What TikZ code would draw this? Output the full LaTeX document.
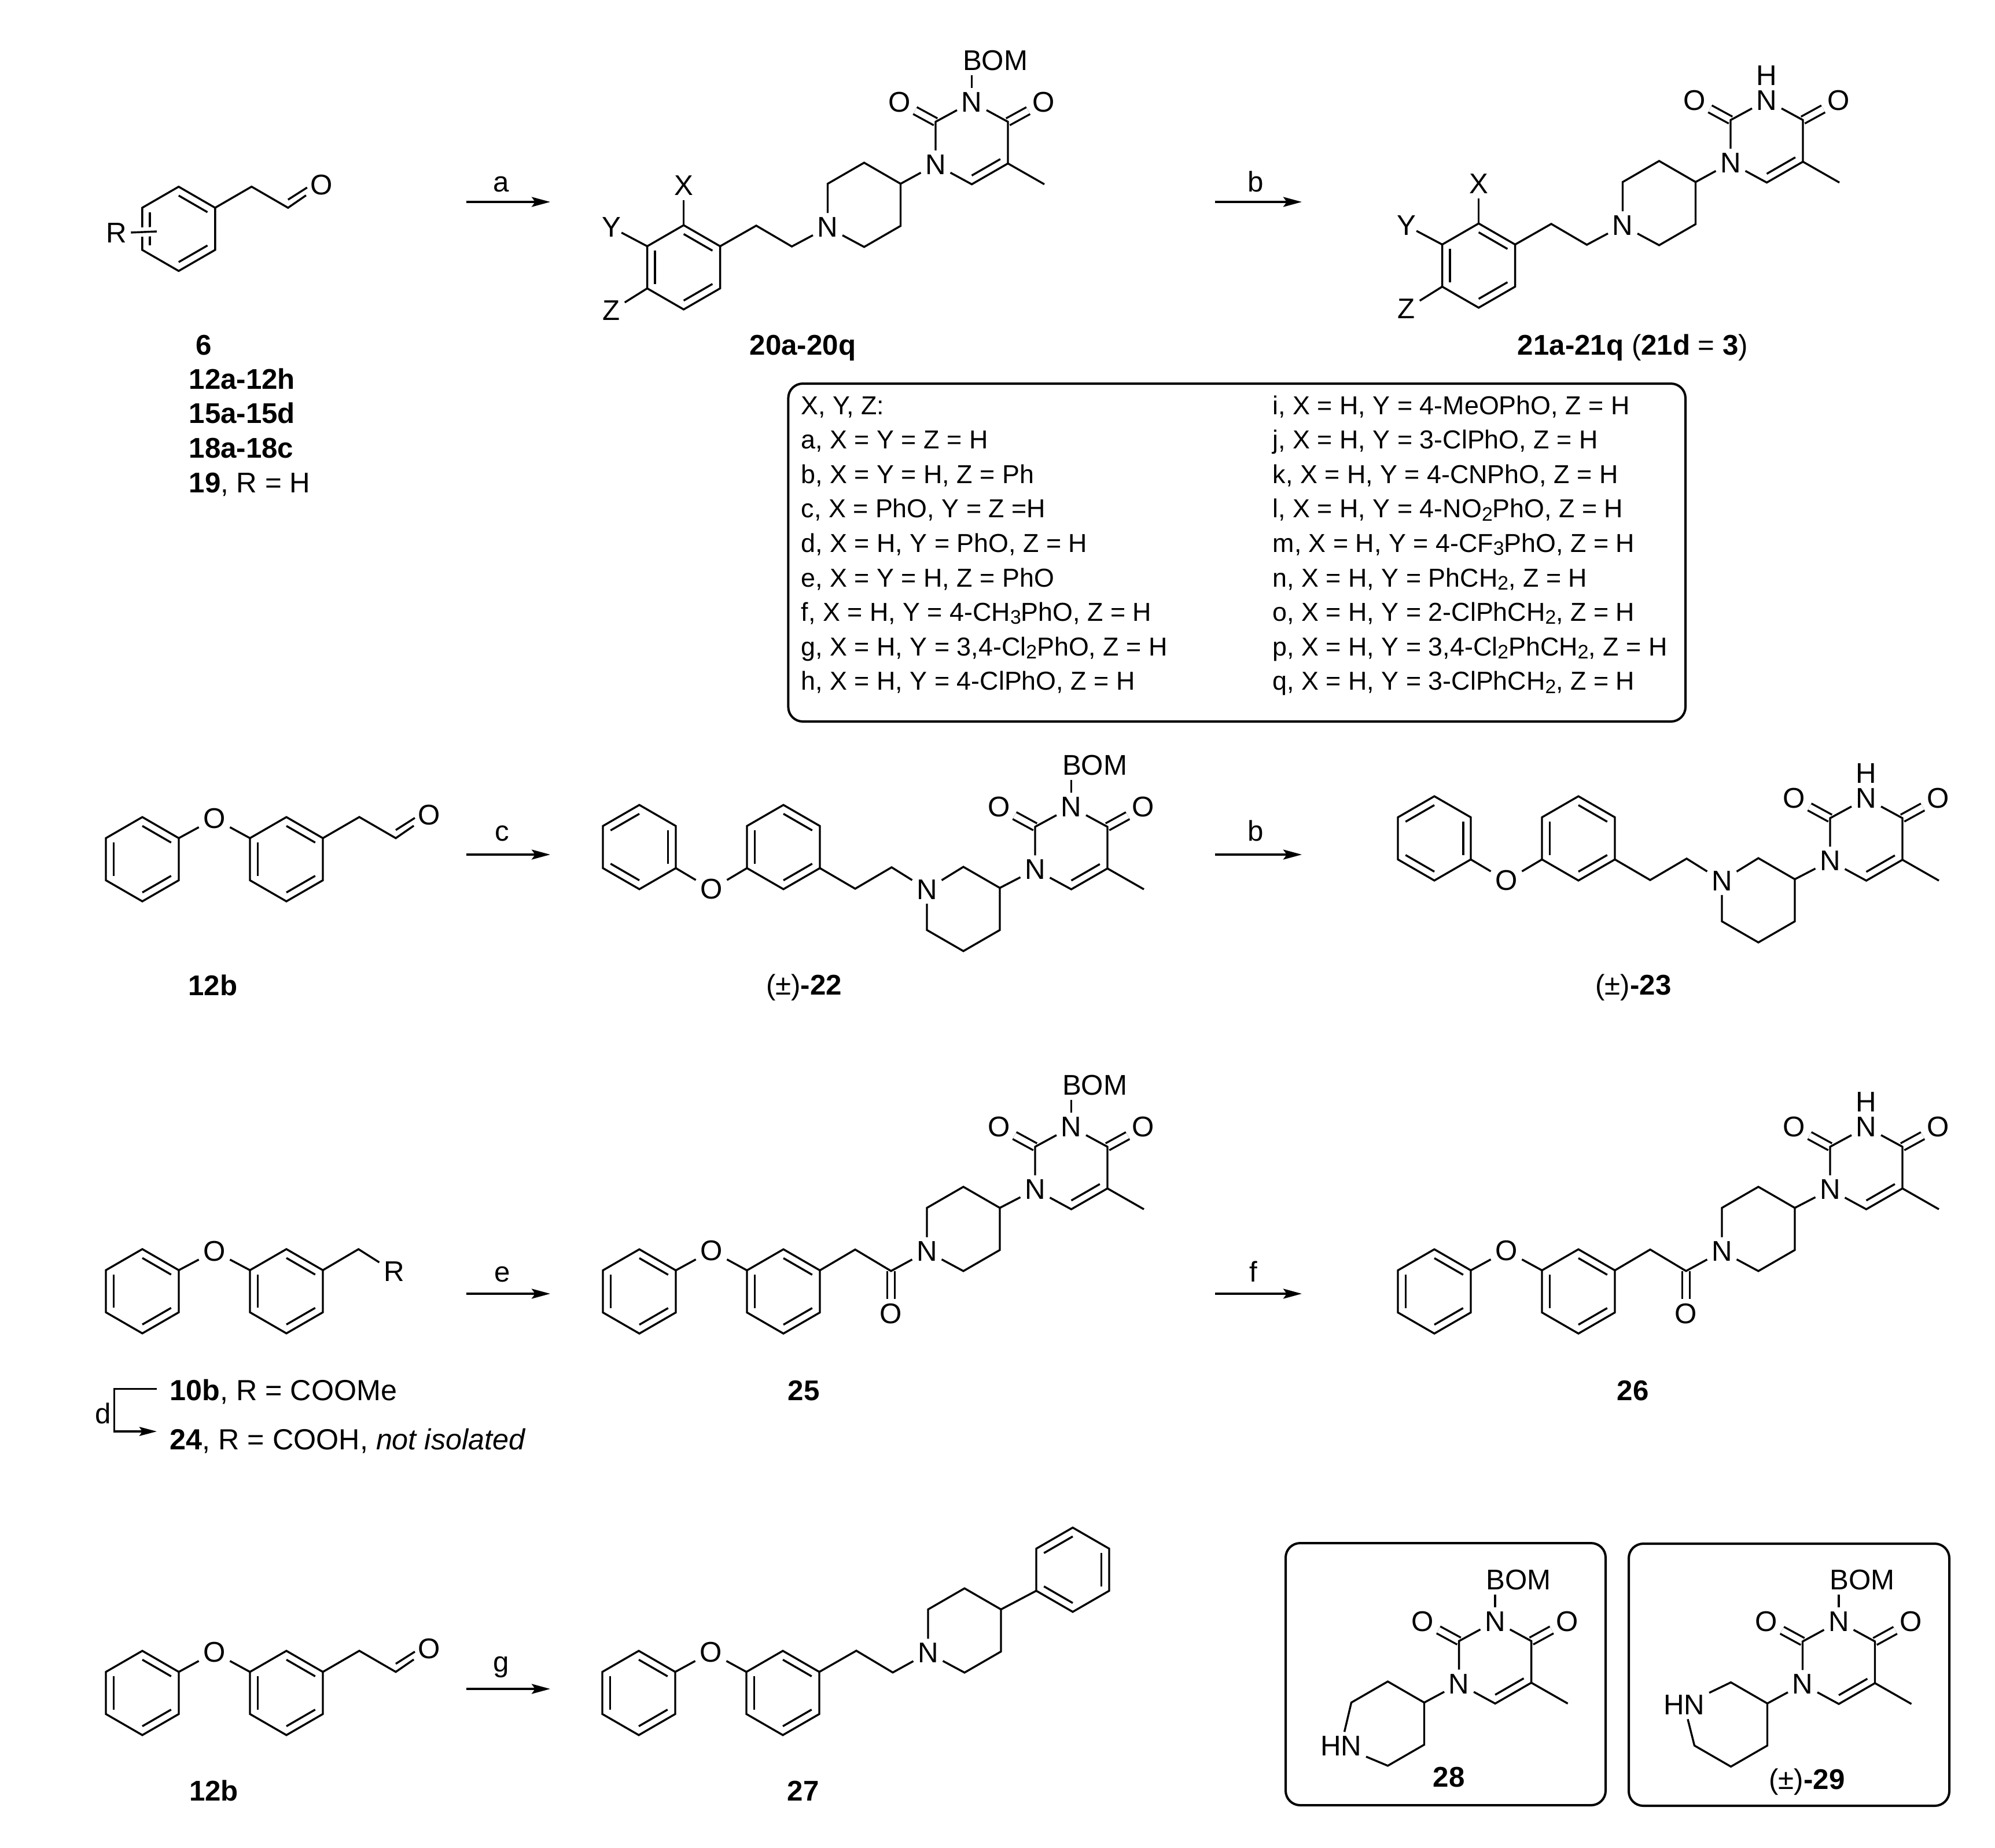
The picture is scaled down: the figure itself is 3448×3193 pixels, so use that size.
\documentclass[tikz,border=0pt]{standalone}
\usepackage{fontspec}
\setmainfont{Liberation Sans}
\usetikzlibrary{arrows.meta,calc}
\newcommand{\atomfont}{\fontsize{14}{15}\selectfont}
\newcommand{\tablefont}{\fontsize{12.75}{15}\selectfont}
\newcommand{\cmpdfont}{\fontsize{14}{15}\selectfont}
\newcommand{\notefont}{\fontsize{14.3}{15}\selectfont}
\newcommand{\lowidx}[1]{\raisebox{-1.5pt}{\fontsize{9.6}{10}\selectfont #1}}
\tikzset{
  bond/.style={line width=0.034cm},
  cobond/.style={line width=0.034cm,double,double distance=0.10cm},
  atom/.style={font=\atomfont,inner sep=2pt},
  cmpd/.style={font=\cmpdfont,inner sep=0pt,anchor=base},
  listrow/.style={font=\cmpdfont,inner sep=0pt,anchor=base west},
  noterow/.style={font=\notefont,inner sep=0pt,anchor=base west},
  tablerow/.style={font=\tablefont,inner sep=0pt,anchor=base west},
  rxnlabel/.style={font=\atomfont,inner sep=0pt,anchor=base},
  rxnarrow/.style={line width=0.04cm,-{Stealth[length=0.32cm,width=0.17cm,inset=0.06cm]}},
  boxframe/.style={line width=0.04cm,rounded corners=0.25cm}
}
% aromatic ring: name, centre x, centre y, double bonds
\newcommand{\benzring}[4]{
  \coordinate (#1c) at (#2,#3);
  \foreach \vi/\ux/\uy in {1/0/-2,2/1/-1,3/1/1,4/0/2,5/-1/1,6/-1/-1}
    \coordinate (#1\vi) at (#2+\ux*63,#3+\uy*36.4);
  \draw[bond] (#11) -- (#12) -- (#13) -- (#14) -- (#15) -- (#16) -- cycle;
  \foreach \ed in {#4} {
    \pgfmathtruncatemacro{\nx}{mod(\ed,6)+1}
    \draw[bond] ($(#1c)!0.79!(#1\ed)$) -- ($(#1c)!0.79!(#1\nx)$);
  }
}
% saturated ring: name, centre x, centre y, place of N, label, node options
\newcommand{\satring}[6]{
  \foreach \vi/\ux/\uy in {1/0/-2,2/1/-1,3/1/1,4/0/2,5/-1/1,6/-1/-1} {
    \ifnum\vi=#4
      \node[atom,#6] (#1\vi) at (#2+\ux*63,#3+\uy*36.4+2.5) {#5};
    \else
      \coordinate (#1\vi) at (#2+\ux*63,#3+\uy*36.4);
    \fi
  }
  \ifnum#4=5
    \draw[bond] (#15) -- (#16) -- (#11) -- (#12) -- (#13) -- (#14) -- (#15);
  \else
    \draw[bond] (#16) -- (#11) -- (#12) -- (#13) -- (#14) -- (#15) -- (#16);
  \fi
}
% pyrimidinedione, placed by its ring N
\newcommand{\uracil}[3]{
  \node[atom] (#1n1) at (#2,#3) {N};
  \node[atom] (#1n3) at (#2+62.5,#3-108) {N};
  \node[atom] (#1o2) at (#2-62.5,#3-108) {O};
  \node[atom] (#1o4) at (#2+187,#3-108) {O};
  \coordinate (#1c2) at (#2,#3-74);
  \coordinate (#1c4) at (#2+125,#3-74);
  \coordinate (#1c5) at (#2+125,#3-2);
  \coordinate (#1c6) at (#2+62.5,#3+34);
  \coordinate (#1me) at (#2+188,#3+34);
  \coordinate (#1rc) at (#2+62.5,#3-38);
  \draw[cobond] (#1c2) -- (#1o2);
  \draw[cobond] (#1c4) -- (#1o4);
  \draw[bond] (#1n1) -- (#1c2) -- (#1n3) -- (#1c4) -- (#1c5) -- (#1c6) -- (#1n1);
  \draw[bond] (#1c5) -- (#1me);
  \draw[bond] ($(#1rc)!0.79!(#1c5)$) -- ($(#1rc)!0.79!(#1c6)$);
}
\newcommand{\bomtop}[3]{
  \uracil{#1}{#2}{#3}
  \node[atom,anchor=west] (#1bom) at (#2+39.4,#3-180) {BOM};
  \draw[bond] (#1n3) -- (#1n3 |- #1bom.south);
}
\newcommand{\nhtop}[3]{
  \uracil{#1}{#2}{#3}
  \node[atom,inner sep=0pt] (#1h) at (#2+62.5,#3-151) {H};
}
% two rings joined by O: name, x, y, double bonds of first ring, vertices, O offset
\newcommand{\phenoxy}[7]{
  \benzring{#1a}{#2}{#3}{#4}
  \benzring{#1b}{#2+249}{#3}{1,3,5}
  \node[atom] (#1o) at (#2+124.5,#3+#7) {O};
  \draw[bond] (#1a#5) -- (#1o) -- (#1b#6);
}
\newcommand{\aldehyde}[2]{
  \coordinate (#1p) at ([shift={(63,-36.5)}]#2);
  \coordinate (#1q) at ([shift={(126,0)}]#2);
  \node[atom] (#1r) at ([shift={(184,-40)}]#2) {O};
  \draw[bond] (#2) -- (#1p) -- (#1q) -- (#1r);
  \draw[bond] ([shift={(0,-14)}]#1q) -- ([shift={(33,-35)}]#1q);
}
\newcommand{\xyzfamily}[2]{
  \benzring{#1a}{1181.6}{462}{1,3,5}
  \node[atom] (#1x) at (1181.6,321) {X};
  \node[atom,inner sep=0pt] (#1y) at (1057,393) {Y};
  \node[atom] (#1z) at (1057,537) {Z};
  \draw[bond] (#1a1) -- (#1x);
  \draw[bond] (#1a6) -- (#1y);
  \draw[bond] (#1a5) -- (#1z);
  \satring{#1p}{1493.5}{354}{5}{N}{}
  \coordinate (#1s) at (1307,390);
  \coordinate (#1t) at (1368.5,426);
  \draw[bond] (#1a2) -- (#1s) -- (#1t) -- (#1p5);
  #2{#1u}{1617}{284.5}
  \draw[bond] (#1p2) -- (#1un1);
}
\newcommand{\meiafamily}[2]{
  \phenoxy{#1e}{1105}{1464}{2,4,6}{3}{5}{73}
  \satring{#1p}{1665}{1571}{6}{N}{}
  \coordinate (#1s) at (1478,1536);
  \coordinate (#1t) at (1541,1499);
  \draw[bond] (#1eb3) -- (#1s) -- (#1t) -- (#1p6);
  #2{#1u}{1789}{1503}
  \draw[bond] (#1p2) -- (#1un1);
}
\newcommand{\amidefamily}[2]{
  \phenoxy{#1e}{1105}{2232}{1,3,5}{2}{6}{-70}
  \satring{#1p}{1665}{2124}{5}{N}{}
  \coordinate (#1s) at (1478,2159.6);
  \coordinate (#1t) at (1540,2196.7);
  \node[atom] (#1o) at (1540,2270.5) {O};
  \draw[cobond] (#1t) -- (#1o);
  \draw[bond] (#1eb2) -- (#1s) -- (#1t) -- (#1p5);
  #2{#1u}{1789}{2056}
  \draw[bond] (#1p2) -- (#1un1);
}
\newcommand{\rxnstep}[7]{
  \coordinate (#1s) at (#2,#4);
  \coordinate (#1e) at (#3,#4);
  \draw[rxnarrow] (#1s) -- (#1e);
  \node[rxnlabel] (#1l) at (#5,#6) {#7};
}
\begin{document}
\begin{tikzpicture}[x=0.01cm,y=-0.01cm]
\useasboundingbox (0,0) rectangle (3448,3193);

% top row
\benzring{six}{308.8}{395.5}{1,3,5}
\aldehyde{sixa}{six2}
\node[atom] (rsub) at (200.8,403) {R};
\coordinate (rend) at (271,400);
\draw[bond,preaction={draw,white,line width=0.16cm}] (rsub) -- (rend);
\node[cmpd] (lab6) at (352,613) {\bfseries 6};
\node[listrow] (lab12a) at (326,672) {\bfseries 12a-12h};
\node[listrow] (lab15a) at (326,731.5) {\bfseries 15a-15d};
\node[listrow] (lab18a) at (326,791) {\bfseries 18a-18c};
\node[listrow] (lab19) at (326,851) {\textbf{19}, R = H};
\rxnstep{ra}{806}{951}{349}{866}{331}{a}
\xyzfamily{ca}{\bomtop}
\node[cmpd] (lab20) at (1387.5,613) {\bfseries 20a-20q};
\rxnstep{rb}{2100}{2250}{349}{2170}{331}{b}
\begin{scope}[shift={(1374,-3)}]
\xyzfamily{cb}{\nhtop}
\end{scope}
\node[cmpd] (lab21) at (2822,613) {\textbf{21a-21q} (\textbf{21d} = \textbf{3})};

% substituent table
\draw[boxframe] (1362.4,663) rectangle (2913,1247);
\foreach \rowtxt [count=\rownum from 0] in {{X, Y, Z:},{a, X = Y = Z = H},{b, X = Y = H, Z = Ph},{c, X = PhO, Y = Z =H},{d, X = H, Y = PhO, Z = H},{e, X = Y = H, Z = PhO},{f, X = H, Y = 4-CH\lowidx{3}PhO, Z = H},{g, X = H, Y = 3,4-Cl\lowidx{2}PhO, Z = H},{h, X = H, Y = 4-ClPhO, Z = H}}
  \node[tablerow] (lrow\rownum) at (1384,716+\rownum*59.6) {\rowtxt};
\foreach \rowtxt [count=\rownum from 0] in {{i, X = H, Y = 4-MeOPhO, Z = H},{j, X = H, Y = 3-ClPhO, Z = H},{k, X = H, Y = 4-CNPhO, Z = H},{l, X = H, Y = 4-NO\lowidx{2}PhO, Z = H},{m, X = H, Y = 4-CF\lowidx{3}PhO, Z = H},{n, X = H, Y = PhCH\lowidx{2}, Z = H},{o, X = H, Y = 2-ClPhCH\lowidx{2}, Z = H},{p, X = H, Y = 3,4-Cl\lowidx{2}PhCH\lowidx{2}, Z = H},{q, X = H, Y = 3-ClPhCH\lowidx{2}, Z = H}}
  \node[tablerow] (rrow\rownum) at (2199,716+\rownum*59.6) {\rowtxt};

% second row
\phenoxy{twa}{246}{1485}{1,3,5}{2}{6}{-70}
\aldehyde{twb}{twab2}
\node[cmpd] (lab12b) at (368,1720) {\bfseries 12b};
\rxnstep{rc}{806}{951}{1477}{868}{1453}{c}
\meiafamily{cc}{\bomtop}
\node[cmpd] (lab22) at (1389.5,1719) {(±)\textbf{-22}};
\rxnstep{rd}{2100}{2250}{1477}{2170}{1453}{b}
\begin{scope}[shift={(1374,-15)}]
\meiafamily{cd}{\nhtop}
\end{scope}
\node[cmpd] (lab23) at (2823,1719) {(±)\textbf{-23}};

% third row
\phenoxy{tha}{246}{2231.7}{1,3,5}{2}{6}{-69}
\coordinate (thp) at (619.6,2159);
\node[atom] (thr) at (681,2198) {R};
\draw[bond] (thab2) -- (thp) -- (thr);
\node[noterow] (lab10b) at (293,2420) {\textbf{10b}, R = COOMe};
\node[noterow] (lab24) at (293,2505) {\textbf{24}, R = COOH, \textit{not isolated}};
\coordinate (dstart) at (271,2400.7);
\coordinate (dmid) at (197.4,2400.7);
\coordinate (dturn) at (197.4,2474);
\coordinate (dend) at (271,2474);
\draw[bond,line width=0.035cm,-{Stealth[length=0.30cm,width=0.155cm,inset=0.05cm]}] (dstart) -- (dmid) -- (dturn) -- (dend);
\node[rxnlabel] (labd) at (178,2460) {d};
\rxnstep{re}{806}{951}{2236}{868}{2215.5}{e}
\amidefamily{ce}{\bomtop}
\node[cmpd] (lab25) at (1389,2420) {\bfseries 25};
\rxnstep{rf}{2100}{2250}{2236}{2166}{2215.5}{f}
\begin{scope}[shift={(1374,0)}]
\amidefamily{cf}{\nhtop}
\end{scope}
\node[cmpd] (lab26) at (2822,2420) {\bfseries 26};

% fourth row
\phenoxy{foa}{246}{2926}{1,3,5}{2}{6}{-70}
\aldehyde{fob}{foab2}
\node[cmpd] (lab12c) at (369.6,3112) {\bfseries 12b};
\rxnstep{rg}{806}{951}{2919}{866}{2889}{g}
\phenoxy{fog}{1104}{2926}{1,3,5}{2}{6}{-70}
\satring{fop}{1667}{2818}{5}{N}{}
\coordinate (fos) at (1480,2853);
\coordinate (fot) at (1543,2890.6);
\draw[bond] (fogb2) -- (fos) -- (fot) -- (fop5);
\benzring{foh}{1854}{2713}{2,4,6}
\draw[bond] (fop2) -- (foh5);
\node[cmpd] (lab27) at (1388,3112) {\bfseries 27};

% boxed amines
\draw[boxframe] (2222,2667) rectangle (2775,3120);
\satring{bxa}{2398.5}{2979}{5}{HN}{anchor=east,xshift=0.255cm}
\bomtop{bxb}{2521.6}{2910.3}
\draw[bond] (bxa2) -- (bxbn1);
\node[cmpd] (lab28) at (2504,3088) {\bfseries 28};
\draw[boxframe] (2815,2668) rectangle (3369,3121);
\satring{bxc}{2991.5}{2980.5}{6}{HN}{anchor=east,xshift=0.255cm}
\bomtop{bxd}{3115.5}{2911}
\draw[bond] (bxc2) -- (bxdn1);
\node[cmpd] (lab29) at (3123,3092) {(±)\textbf{-29}};
\end{tikzpicture}
\end{document}
